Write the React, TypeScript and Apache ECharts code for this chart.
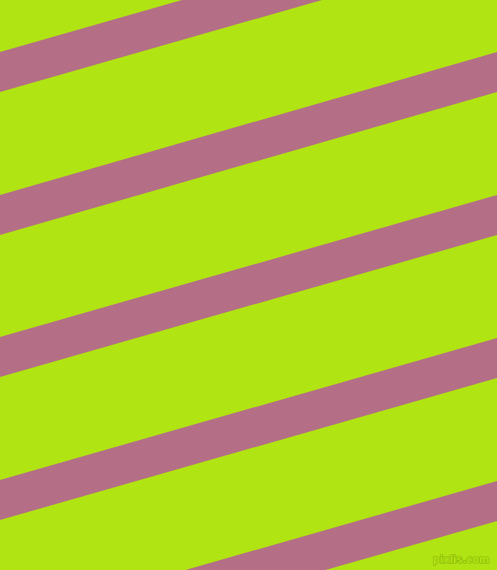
import React, { useEffect, useRef } from 'react';
import * as echarts from 'echarts';

// stripe top edge read at the left (x=0) and right (x=497) borders, px from top
const stripeLeftTop = [52, 195, 337, 480, 623];
const stripeRightTop = [-90, 52, 195, 338, 481];
const stripeThickness = [40, 40, 40, 40, 40];

const WIDTH = 497;
const HEIGHT = 570;

const App: React.FC = () => {
    const chartRef = useRef<HTMLDivElement>(null);

    useEffect(() => {
        if (!chartRef.current) return;
        const chart = echarts.init(chartRef.current, undefined, { renderer: 'svg' });

        const data = stripeLeftTop.map((top, i) => [top, stripeRightTop[i], stripeThickness[i]]);

        const option: echarts.EChartsOption = {
            animation: false,
            backgroundColor: '#b0e412',
            grid: { left: 0, right: 0, top: 0, bottom: 0 },
            xAxis: { type: 'value', min: 0, max: WIDTH, show: false },
            yAxis: { type: 'value', min: 0, max: HEIGHT, inverse: true, show: false },
            graphic: [
                {
                    type: 'text',
                    right: 7,
                    bottom: 5,
                    style: {
                        text: 'pixlis.com',
                        fill: '#b0e412',
                        stroke: '#86ad0c',
                        lineWidth: 1,
                        font: 'bold 10px "DejaVu Sans", sans-serif',
                    },
                },
            ],
            series: [
                {
                    type: 'custom',
                    clip: true,
                    data,
                    renderItem: (params: any, api: any) => {
                        const lt = api.value(0);
                        const rt = api.value(1);
                        const th = api.value(2);
                        const pts = [
                            api.coord([0, lt]),
                            api.coord([WIDTH, rt]),
                            api.coord([WIDTH, rt + th]),
                            api.coord([0, lt + th]),
                        ];
                        return {
                            type: 'polygon',
                            shape: { points: pts },
                            style: { fill: '#b46e85' },
                        };
                    },
                },
            ],
        };

        chart.setOption(option);
        return () => chart.dispose();
    }, []);

    return (
        <div
            ref={chartRef}
            style={{ position: 'absolute', left: 0, top: 0, width: WIDTH, height: HEIGHT }}
        />
    );
};

export default App;
